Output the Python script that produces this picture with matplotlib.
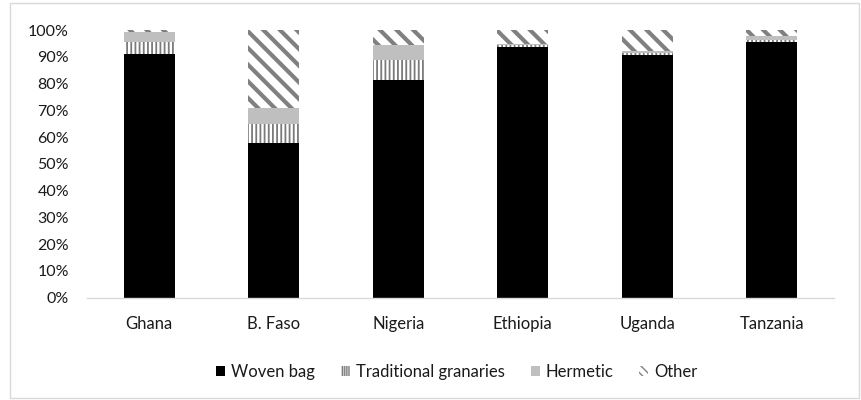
import matplotlib
matplotlib.use("Agg")
import matplotlib.pyplot as plt
from matplotlib.patches import Rectangle, Patch
from matplotlib.ticker import PercentFormatter

countries = ["Ghana", "B. Faso", "Nigeria", "Ethiopia", "Uganda", "Tanzania"]
woven_bag = [90.9, 57.6, 81.3, 93.8, 90.8, 95.6]
traditional_granaries = [4.7, 7.2, 7.5, 0.5, 0.7, 0.7]
hermetic = [3.5, 5.9, 5.6, 0.4, 0.8, 1.5]
other = [0.9, 29.3, 5.6, 5.3, 7.7, 2.2]

plt.rcParams["font.family"] = ["Lato", "DejaVu Sans"]

fig = plt.figure(figsize=(8.62, 4.0), dpi=100)
ax = fig.add_axes([0.101, 0.256, 0.8666, 0.669])

x = list(range(len(countries)))
width = 0.41

# (label, values, bar style, legend-swatch hatch)
series = [
    ("Woven bag", woven_bag, dict(color="black", linewidth=0), None),
    ("Traditional granaries", traditional_granaries,
     dict(facecolor="white", edgecolor="#7a7a7a", hatch="||||", linewidth=0, hlw=1.3),
     "||||||||"),
    ("Hermetic", hermetic, dict(color="#bfbfbf", linewidth=0), None),
    ("Other", other,
     dict(facecolor="white", edgecolor="#808080", hatch="\\\\", linewidth=0, hlw=3.0),
     "\\\\\\\\"),
]

bottom = [0.0] * len(countries)
handles = []
for name, vals, style, swatch_hatch in series:
    style = dict(style)
    hlw = style.pop("hlw", 1.0)
    with plt.rc_context({"hatch.linewidth": hlw}):
        bars = ax.bar(x, [v / 100 for v in vals], width, bottom=[b / 100 for b in bottom],
                      label=name, **style)
        for b in bars:
            if hasattr(b, "set_hatch_linewidth"):
                b.set_hatch_linewidth(hlw)
        hstyle = dict(style)
        if swatch_hatch:
            hstyle["hatch"] = swatch_hatch
        h = Patch(label=name, **hstyle)
        if hasattr(h, "set_hatch_linewidth"):
            h.set_hatch_linewidth(hlw * 0.8)
    handles.append(h)
    bottom = [b + v for b, v in zip(bottom, vals)]

ax.set_xlim(-0.5, len(countries) - 0.5)
ax.set_ylim(0, 1)
ax.set_yticks([i / 10 for i in range(11)])
ax.yaxis.set_major_formatter(PercentFormatter(1.0, decimals=0))
ax.set_xticks(x)
ax.set_xticklabels(countries)
ax.tick_params(axis="y", length=0, pad=13, labelsize=11.5, labelcolor="#1a1a1a")
ax.tick_params(axis="x", length=0, pad=13, labelsize=12, labelcolor="#1a1a1a")

for s in ["top", "right", "left"]:
    ax.spines[s].set_visible(False)
ax.spines["bottom"].set_color("#d9d9d9")
ax.spines["bottom"].set_linewidth(1.0)

leg = fig.legend(handles=handles, loc="center", bbox_to_anchor=(0.530, 0.07), ncol=4,
                 frameon=False, fontsize=12, handlelength=0.55, handleheight=0.55,
                 handletextpad=0.35, columnspacing=1.55, labelcolor="#1a1a1a")

fig.patches.append(Rectangle((10 / 862, 2 / 400), 849 / 862, 395 / 400,
                             transform=fig.transFigure, fill=False,
                             edgecolor="#d9d9d9", linewidth=1.0))

fig.savefig("out.png", dpi=100, facecolor="white")
